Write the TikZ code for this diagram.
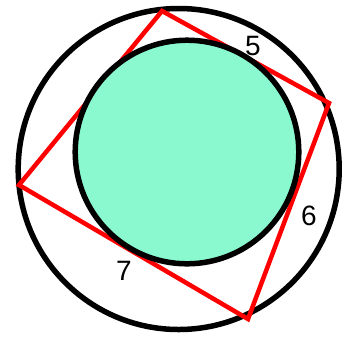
\documentclass[tikz,border=0pt]{standalone}
\usepackage{fontspec}
\setmainfont{Liberation Sans}
\usepackage{tikz}
\definecolor{mint}{RGB}{138,249,207}
\begin{document}
\begin{tikzpicture}[x=1pt,y=-1pt,ring/.style={draw=black,line width=5.5pt},side/.style={draw=red,line width=4.5pt,line join=miter},lbl/.style={font=\fontsize{28}{28}\selectfont,inner sep=0pt}]
\useasboundingbox (0,0) rectangle (344,338);
\draw[ring] (178.7,169) circle (160.5);
\coordinate (t) at (162,11);
\coordinate (r) at (329,103);
\coordinate (b) at (248,319);
\coordinate (l) at (19,185);
\draw[side] (t) -- (r) -- (b) -- (l) -- cycle;
\draw[ring,fill=mint] (187,152) circle (111.8);
\foreach \n/\txt/\x/\y in {five/5/253/46,six/6/309/216,seven/7/124/271} {
   \node[lbl] (\n) at (\x,\y) {\txt};
}
\end{tikzpicture}
\end{document}
